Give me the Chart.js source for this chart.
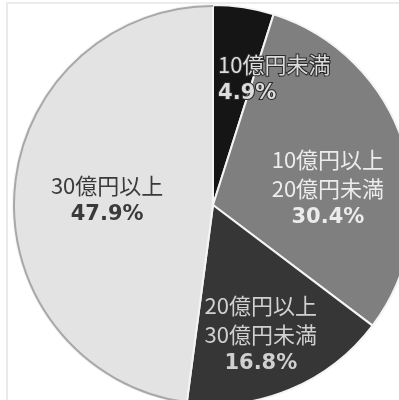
<!DOCTYPE html>
<html lang="ja">
<head>
<meta charset="utf-8">
<title>売上規模別の構成比</title>
<script src="https://cdn.jsdelivr.net/npm/chart.js@4/dist/chart.umd.min.js"></script>
<style>
  html, body { margin: 0; padding: 0; background: #fff; overflow: hidden; }
  body { width: 399px; height: 400px; position: relative; }
  .frame {
    position: absolute; left: 6px; top: 2px; width: 420px; height: 420px;
    border-left: 2px solid #e9e9e9; border-top: 2px solid #ececec;
  }
  .chart-box { position: absolute; left: 12px; top: 4px; width: 402px; height: 402px; }
</style>
</head>
<body>
<div class="frame"></div>
<div class="chart-box"><canvas id="share-chart"></canvas></div>
<script>
// 売上規模別の構成比（%）
const categories = [
  ['10億円未満'],
  ['10億円以上', '20億円未満'],
  ['20億円以上', '30億円未満'],
  ['30億円以上'],
]
const shares = [4.9, 30.4, 16.8, 47.9]

const sliceColors = ['#151515', '#7f7f7f', '#363636', '#e3e3e3']
const textColors = ['#dcdcdc', '#ececec', '#d0d0d0', '#3a3a3a']

// label placement: fraction of radius, angle nudge in degrees, alignment
const labelLayout = [
  { r: 0.63, nudge: -6.5, align: 'left' },
  { r: 0.58, nudge: 9.7, align: 'center' },
  { r: 0.69, nudge: 2.4, align: 'center' },
  { r: 0.53, nudge: -1.1, align: 'center' },
]

const sliceLabels = {
  id: 'sliceLabels',
  afterDatasetsDraw(chart) {
    const { ctx } = chart
    const arcs = chart.getDatasetMeta(0).data

    // grey rim along the light slice
    const big = arcs[3]
    ctx.save()
    ctx.beginPath()
    ctx.arc(big.x, big.y, big.outerRadius - 1, big.startAngle, big.endAngle)
    ctx.strokeStyle = '#a8a8a8'
    ctx.lineWidth = 2
    ctx.stroke()
    ctx.restore()

    arcs.forEach((arc, i) => {
      const lay = labelLayout[i]
      const mid = (arc.startAngle + arc.endAngle) / 2 + lay.nudge * Math.PI / 180
      const cx = arc.x + Math.cos(mid) * arc.outerRadius * lay.r
      const cy = arc.y + Math.sin(mid) * arc.outerRadius * lay.r
      const lines = categories[i].map((t) => ({ text: t, font: "22px 'Noto Sans CJK JP', sans-serif" }))
      lines.push({ text: shares[i].toFixed(1) + '%', font: "bold 21px 'DejaVu Sans', sans-serif" })
      const step = 29
      let y = cy - (lines.length - 1) * step / 2
      ctx.save()
      ctx.textAlign = lay.align
      ctx.textBaseline = 'middle'
      lines.forEach((ln) => {
        ctx.font = ln.font
        if (i === 0) {
          // this label runs over the neighbouring slice, so it gets a dark edge
          ctx.lineWidth = 2
          ctx.strokeStyle = '#2a2a2a'
          ctx.strokeText(ln.text, cx, y)
        }
        ctx.fillStyle = textColors[i]
        ctx.fillText(ln.text, cx, y)
        y += step
      })
      ctx.restore()
    })
  },
}

new Chart(document.getElementById('share-chart'), {
  type: 'pie',
  data: {
    labels: categories.map((c) => c.join('')),
    datasets: [
      {
        data: shares,
        backgroundColor: sliceColors,
        borderColor: '#f4f4f4',
        borderWidth: 2,
      },
    ],
  },
  options: {
    responsive: true,
    maintainAspectRatio: false,
    animation: false,
    layout: { padding: 0 },
    plugins: {
      legend: { display: false },
      tooltip: { enabled: false },
    },
  },
  plugins: [sliceLabels],
})
</script>
</body>
</html>
